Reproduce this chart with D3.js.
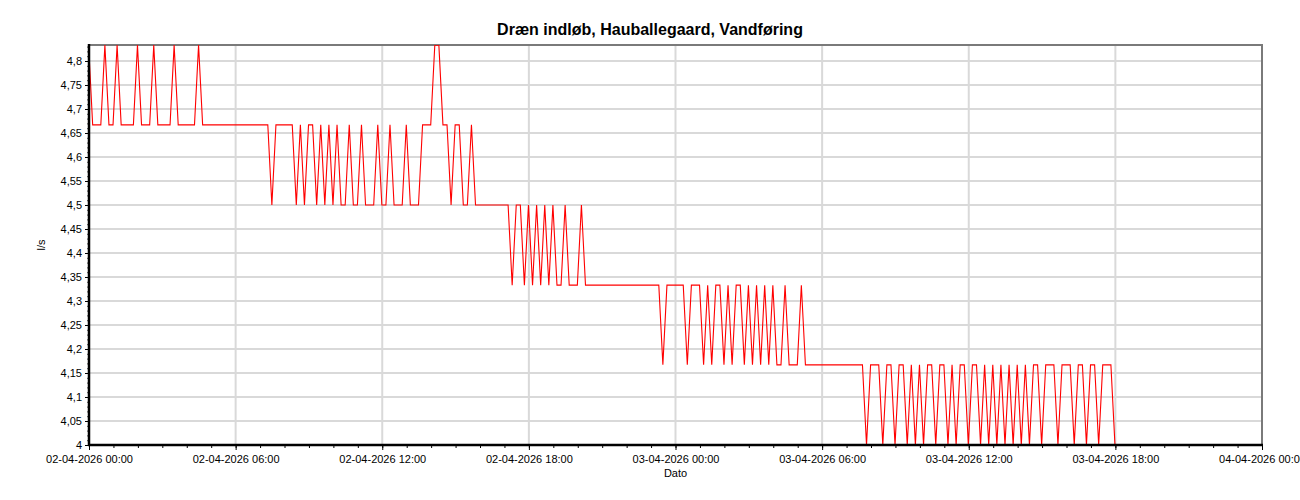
<!DOCTYPE html>
<html>
<head>
<meta charset="utf-8">
<script src="https://cdn.jsdelivr.net/npm/d3@7/dist/d3.min.js"></script>
<style>
  html, body { margin: 0; padding: 0; background: #fff; }
  svg { display: block; font-family: "Liberation Sans", Arial, sans-serif; }
</style>
</head>
<body>
<svg id="chart" width="1300" height="500"></svg>
<script>
// ---------- data ----------
const chartTitle = "Dræn indløb, Hauballegaard, Vandføring";
const yAxisTitle = "l/s";
const xAxisTitle = "Dato";
// samples every 10 minutes, first sample at 01-04-2026 23:59
const firstSample = "2026-04-01T23:59:00";
const sampleMinutes = 10;
// flow values (l/s)
const flow = [
  4.833, 4.667, 4.667, 4.667, 4.833, 4.667, 4.667, 4.833, 4.667, 4.667,
  4.667, 4.667, 4.833, 4.667, 4.667, 4.667, 4.833, 4.667, 4.667, 4.667,
  4.667, 4.833, 4.667, 4.667, 4.667, 4.667, 4.667, 4.833, 4.667, 4.667,
  4.667, 4.667, 4.667, 4.667, 4.667, 4.667, 4.667, 4.667, 4.667, 4.667,
  4.667, 4.667, 4.667, 4.667, 4.667, 4.5,   4.667, 4.667, 4.667, 4.667,
  4.667, 4.5,   4.667, 4.5,   4.667, 4.667, 4.5,   4.667, 4.5,   4.667,
  4.5,   4.667, 4.5,   4.5,   4.667, 4.5,   4.5,   4.667, 4.5,   4.5,
  4.5,   4.667, 4.5,   4.5,   4.667, 4.5,   4.5,   4.5,   4.667, 4.5,
  4.5,   4.5,   4.667, 4.667, 4.667, 4.833, 4.833, 4.667, 4.667, 4.5,
  4.667, 4.667, 4.5,   4.5,   4.667, 4.5,   4.5,   4.5,   4.5,   4.5,
  4.5,   4.5,   4.5,   4.5,   4.333, 4.5,   4.5,   4.333, 4.5,   4.333,
  4.5,   4.333, 4.5,   4.333, 4.5,   4.333, 4.333, 4.5,   4.333, 4.333,
  4.333, 4.5,   4.333, 4.333, 4.333, 4.333, 4.333, 4.333, 4.333, 4.333,
  4.333, 4.333, 4.333, 4.333, 4.333, 4.333, 4.333, 4.333, 4.333, 4.333,
  4.333, 4.167, 4.333, 4.333, 4.333, 4.333, 4.333, 4.167, 4.333, 4.333,
  4.333, 4.167, 4.333, 4.167, 4.333, 4.333, 4.167, 4.333, 4.167, 4.333,
  4.333, 4.167, 4.333, 4.167, 4.333, 4.167, 4.333, 4.167, 4.333, 4.167,
  4.167, 4.333, 4.167, 4.167, 4.167, 4.333, 4.167, 4.167, 4.167, 4.167,
  4.167, 4.167, 4.167, 4.167, 4.167, 4.167, 4.167, 4.167, 4.167, 4.167,
  4.167, 4.0,   4.167, 4.167, 4.167, 4.0,   4.167, 4.167, 4.0,   4.167,
  4.167, 4.0,   4.167, 4.0,   4.167, 4.0,   4.167, 4.167, 4.0,   4.167,
  4.167, 4.0,   4.167, 4.0,   4.167, 4.167, 4.0,   4.167, 4.167, 4.0,
  4.167, 4.0,   4.167, 4.0,   4.167, 4.0,   4.167, 4.0,   4.167, 4.0,
  4.167, 4.0,   4.167, 4.167, 4.0,   4.167, 4.167, 4.167, 4.0,   4.167,
  4.167, 4.167, 4.0,   4.167, 4.167, 4.0,   4.167, 4.167, 4.0,   4.167,
  4.167, 4.167, 4.0
];
const yTicks = [4, 4.05, 4.1, 4.15, 4.2, 4.25, 4.3, 4.35, 4.4, 4.45, 4.5, 4.55, 4.6, 4.65, 4.7, 4.75, 4.8];
const yMin = 4, yMax = 4.8333;
const xTicks = ["2026-04-02T00:00", "2026-04-02T06:00", "2026-04-02T12:00", "2026-04-02T18:00",
                "2026-04-03T00:00", "2026-04-03T06:00", "2026-04-03T12:00", "2026-04-03T18:00",
                "2026-04-04T00:00"];

// ---------- layout ----------
const W = 1300, H = 500;
const m = { left: 89, right: 1262, top: 45, bottom: 445 };
const svg = d3.select("#chart");

const t0 = new Date(firstSample);
const series = flow.map((v, i) => ({ t: new Date(t0.getTime() + i * sampleMinutes * 60000), v }));
const xTickDates = xTicks.map(s => new Date(s));

const x = d3.scaleTime().domain([xTickDates[0], xTickDates[xTickDates.length - 1]]).range([m.left, m.right]);
const y = d3.scaleLinear().domain([yMin, yMax]).range([m.bottom, m.top]);

const locale = d3.formatLocale({ decimal: ",", thousands: ".", grouping: [3], currency: ["", ""] });
const yFmt = locale.format(".2~f");
const pad = n => String(n).padStart(2, "0");
const xFmt = d => `${pad(d.getDate())}-${pad(d.getMonth() + 1)}-${d.getFullYear()} ${pad(d.getHours())}:${pad(d.getMinutes())}`;

// grid
const grid = svg.append("g");
grid.selectAll("line.h").data(yTicks.slice(1)).join("line")
  .attr("x1", m.left).attr("x2", m.right)
  .attr("y1", d => y(d)).attr("y2", d => y(d))
  .attr("stroke", "#d9d9d9").attr("stroke-width", 2);
grid.selectAll("line.v").data(xTickDates.slice(1, -1)).join("line")
  .attr("x1", d => x(d)).attr("x2", d => x(d))
  .attr("y1", m.top).attr("y2", m.bottom)
  .attr("stroke", "#d9d9d9").attr("stroke-width", 2);

// frame top/right
svg.append("line").attr("x1", m.left).attr("x2", m.right + 1).attr("y1", m.top).attr("y2", m.top)
  .attr("stroke", "#7a7a7a").attr("stroke-width", 2);
svg.append("line").attr("x1", m.right).attr("x2", m.right).attr("y1", m.top).attr("y2", m.bottom)
  .attr("stroke", "#7a7a7a").attr("stroke-width", 2);

// line
svg.append("clipPath").attr("id", "clip").append("rect")
  .attr("x", m.left).attr("y", m.top).attr("width", m.right - m.left).attr("height", m.bottom - m.top);
const line = d3.line().x(d => x(d.t)).y(d => y(d.v));
svg.append("path").datum(series)
  .attr("clip-path", "url(#clip)")
  .attr("fill", "none").attr("stroke", "#ff0000").attr("stroke-width", 1.1)
  .attr("d", line);

// y axis
const yMinor = d3.range(0, 84).map(i => yMin + i * 0.01).filter(v => v <= yMax);
const yAxisMinor = d3.axisLeft(y).tickValues(yMinor).tickSize(2).tickFormat("");
svg.append("g").attr("transform", `translate(${m.left},0)`).call(yAxisMinor)
  .call(g => g.select(".domain").remove())
  .call(g => g.selectAll("line").attr("stroke", "#555"));
const yAxis = d3.axisLeft(y).tickValues(yTicks).tickSize(4).tickPadding(3).tickFormat(yFmt);
svg.append("g").attr("transform", `translate(${m.left},0)`).call(yAxis)
  .call(g => g.select(".domain").remove())
  .call(g => g.selectAll("text").attr("font-size", 11).attr("fill", "#000").attr("font-family", "Liberation Sans, Arial, sans-serif"));
svg.append("line").attr("x1", m.left).attr("x2", m.left).attr("y1", m.top - 1).attr("y2", m.bottom + 1)
  .attr("stroke", "#000").attr("stroke-width", 2.5);

// x axis
const xMinor = d3.timeMinute.every(90).range(xTickDates[0], new Date(xTickDates[xTickDates.length - 1].getTime() + 1));
const xAxisMinor = d3.axisBottom(x).tickValues(xMinor).tickSize(3).tickFormat("");
svg.append("g").attr("transform", `translate(0,${m.bottom})`).call(xAxisMinor)
  .call(g => g.select(".domain").remove())
  .call(g => g.selectAll("line").attr("stroke", "#000"));
const xAxis = d3.axisBottom(x).tickValues(xTickDates).tickSize(5).tickPadding(5).tickFormat(xFmt);
svg.append("g").attr("transform", `translate(0,${m.bottom})`).call(xAxis)
  .call(g => g.select(".domain").remove())
  .call(g => g.selectAll("line").attr("stroke", "#000"))
  .call(g => g.selectAll("text").attr("font-size", 11).attr("fill", "#000").attr("font-family", "Liberation Sans, Arial, sans-serif"));
svg.append("line").attr("x1", m.left - 1).attr("x2", m.right + 1).attr("y1", m.bottom).attr("y2", m.bottom)
  .attr("stroke", "#000").attr("stroke-width", 2.5);

// titles
svg.append("text").attr("x", W / 2).attr("y", 35).attr("text-anchor", "middle")
  .attr("font-size", 16).attr("font-weight", "bold").text(chartTitle);
svg.append("text").attr("x", (m.left + m.right) / 2).attr("y", 477).attr("text-anchor", "middle")
  .attr("font-size", 11).text(xAxisTitle);
svg.append("text").attr("transform", `translate(45,${(m.top + m.bottom) / 2}) rotate(-90)`)
  .attr("text-anchor", "middle").attr("font-size", 11).text(yAxisTitle);
</script>
</body>
</html>
